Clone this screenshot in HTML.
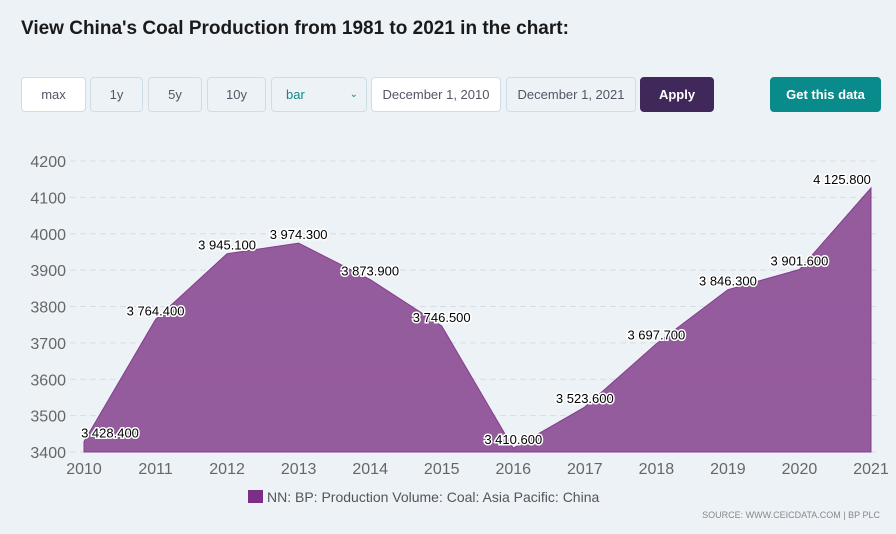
<!DOCTYPE html>
<html><head><meta charset="utf-8">
<style>
body{margin:0;width:896px;height:534px;background:#edf2f7;font-family:"Liberation Sans",sans-serif;overflow:hidden;position:relative}
h1{position:absolute;left:21px;top:18px;margin:0;font-size:19px;font-weight:bold;color:#1a1a1a}
.btn{position:absolute;top:77px;height:35px;box-sizing:border-box;border:1px solid #cfdde6;border-radius:4px;background:#edf2f7;font-size:13px;color:#556;display:flex;align-items:center;justify-content:center}
svg{position:absolute;left:0;top:0}
</style></head><body>
<h1>View China's Coal Production from 1981 to 2021 in the chart:</h1>
<div class="btn" style="left:21px;width:65px;background:#fff">max</div>
<div class="btn" style="left:90px;width:53px">1y</div>
<div class="btn" style="left:148px;width:54px">5y</div>
<div class="btn" style="left:207px;width:59px">10y</div>
<div class="btn" style="left:271px;width:96px;justify-content:space-between;padding:0 8px 0 14px;color:#0d8a8a"><span>bar</span><span style="font-size:10px">&#8964;</span></div>
<div class="btn" style="left:371px;width:130px;background:#fff">December 1, 2010</div>
<div class="btn" style="left:506px;width:130px">December 1, 2021</div>
<div class="btn" style="left:640px;width:74px;background:#40295a;border-color:#40295a;color:#fff;font-weight:bold">Apply</div>
<div class="btn" style="left:770px;width:111px;background:#0a8b8b;border-color:#0a8b8b;color:#fff;font-weight:bold">Get this data</div>
<svg id="c" width="896" height="534"></svg>
<script>
const years=[2010,2011,2012,2013,2014,2015,2016,2017,2018,2019,2020,2021];
const values=[3428.4,3764.4,3945.1,3974.3,3873.9,3746.5,3410.6,3523.6,3697.7,3846.3,3901.6,4125.8];
const labels=["3 428.400","3 764.400","3 945.100","3 974.300","3 873.900","3 746.500","3 410.600","3 523.600","3 697.700","3 846.300","3 901.600","4 125.800"];
const yTicks=[3400,3500,3600,3700,3800,3900,4000,4100,4200];
const NS="http://www.w3.org/2000/svg";
const svg=document.getElementById('c');
const x0=84,x1=871,yb=452,yt=161,vmin=3400,vmax=4200;
const X=i=>x0+(x1-x0)*i/(years.length-1);
const Y=v=>yb-(v-vmin)/(vmax-vmin)*(yb-yt);
function mk(t,a,txt){const e=document.createElementNS(NS,t);for(const k in a)e.setAttribute(k,a[k]);if(txt!=null)e.textContent=txt;svg.appendChild(e);return e;}
yTicks.forEach(v=>{
 const l=mk('line',{x1:70,x2:880,y1:Y(v),y2:Y(v),stroke:'#d8dde3','stroke-dasharray':'6,4'});
 
 
 const t=mk('text',{x:66,y:Y(v)+6,'text-anchor':'end','font-size':16,fill:'#666'},v);
 
 
});
let d=`M${X(0)},${yb}`;values.forEach((v,i)=>d+=` L${X(i)},${Y(v)}`);d+=` L${X(values.length-1)},${yb} Z`;
const a=mk('path',{d:d,fill:'#8d4f96',stroke:'#7b2f86','stroke-width':1,opacity:0.92});


years.forEach((y,i)=>{
 const t=mk('text',{x:X(i),y:474,'text-anchor':'middle','font-size':16,fill:'#666'},y);
 
 
 const lx=Math.min(Math.max(X(i),110),842);
 const lbl=mk('text',{x:lx,y:Y(values[i])-4,'text-anchor':'middle','font-size':13,fill:'#000',stroke:'#fff','stroke-width':3,'paint-order':'stroke'},labels[i]);
 
 
});
const lg=mk('rect',{x:248,y:490,width:15,height:13,fill:'#7b2f86'});


const lt=mk('text',{x:267,y:502,'font-size':14,fill:'#555'},'NN: BP: Production Volume: Coal: Asia Pacific: China');


const src=mk('text',{x:880,y:518,'text-anchor':'end','font-size':9,fill:'#888'},'SOURCE: WWW.CEICDATA.COM | BP PLC');


</script>
</body></html>
